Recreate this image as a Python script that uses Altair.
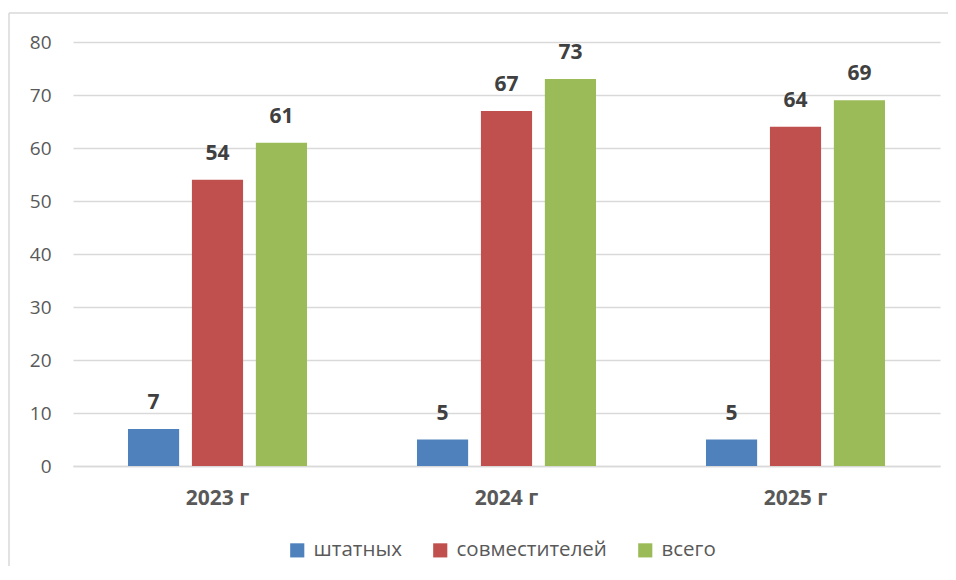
import altair as alt
import pandas as pd

years = ["2023 г", "2024 г", "2025 г"]
series = ["штатных", "совместителей", "всего"]
shtatnyh = [7, 5, 5]
sovmest = [54, 67, 64]
vsego = [61, 73, 69]
colors = ["#4F81BD", "#C0504D", "#9BBB59"]

rows = []
for i, y in enumerate(years):
    for s, vals in zip(series, [shtatnyh, sovmest, vsego]):
        rows.append({"year": y, "series": s, "value": vals[i]})
df = pd.DataFrame(rows)

FONT = "Open Sans"

x = alt.X("year:N", sort=years, title=None,
          scale=alt.Scale(paddingInner=0, paddingOuter=0),
          axis=alt.Axis(labelFont=FONT, labelFontSize=21, labelFontWeight="bold",
                        labelColor="#595959", labelPadding=21, ticks=False,
                        domainColor="#d9d9d9", domainWidth=1.5, labelAngle=0))
xo = alt.XOffset("series:N", sort=series,
                 scale=alt.Scale(paddingInner=0.2, paddingOuter=0.86))
y = alt.Y("value:Q", title=None,
          scale=alt.Scale(domain=[0, 80], nice=False),
          axis=alt.Axis(values=list(range(0, 81, 10)), labelFont=FONT, labelFontSize=19,
                        labelColor="#595959", labelPadding=22, ticks=False, domain=False,
                        gridColor="#d9d9d9", gridWidth=1.5))

color = alt.Color("series:N", sort=series,
                  scale=alt.Scale(domain=series, range=colors),
                  legend=alt.Legend(title=None, orient="none", direction="horizontal",
                                    legendX=214, legendY=498, symbolType="square",
                                    symbolSize=200, symbolStrokeWidth=0,
                                    labelFont=FONT, labelFontSize=20.5,
                                    labelColor="#595959", labelOffset=6,
                                    columnPadding=28))

base = alt.Chart(df)
bars = base.mark_bar().encode(x=x, xOffset=xo, y=y, color=color)
labels = base.mark_text(dy=-16, font=FONT, fontSize=21, fontWeight="bold",
                        color="#404040", baseline="bottom").encode(
    x=x, xOffset=xo, y=y, text="value:Q")

frame = pd.DataFrame({"a": [0]})
top_line = alt.Chart(frame).mark_rule(color="#d9d9d9", strokeWidth=1.5, clip=False).encode(
    x=alt.value(-64), x2=alt.value(900), y=alt.value(-29))
left_line = alt.Chart(frame).mark_rule(color="#d9d9d9", strokeWidth=1.5, clip=False).encode(
    x=alt.value(-64), y=alt.value(-29), y2=alt.value(560))

chart = alt.layer(top_line, left_line, bars, labels).properties(
    width=867, height=424,
    padding={"left": 65, "top": 34, "right": 8, "bottom": 100},
    autosize=alt.AutoSizeParams(type="none"),
).configure_view(stroke=None)

chart.save("out.html", embed_options={"renderer": "svg", "actions": False})
